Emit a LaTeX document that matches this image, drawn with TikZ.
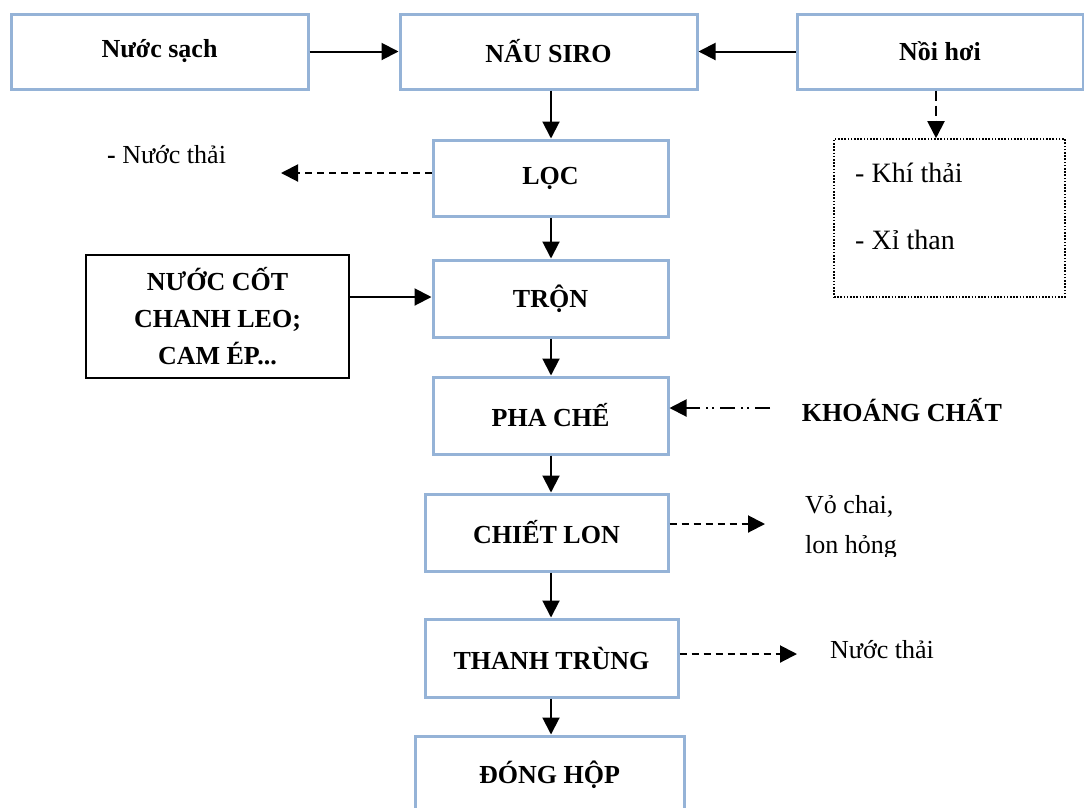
\documentclass[tikz,border=0pt]{standalone}
\usepackage{fontspec}
\setmainfont{Liberation Serif}
\usetikzlibrary{arrows.meta}
\definecolor{boxblue}{RGB}{149,179,215}
\tikzset{
  stage/.style={draw=boxblue, line width=3pt, fill=white, rectangle, inner sep=0pt,
    font=\fontsize{26}{37}\selectfont\bfseries, align=center},
  inputbox/.style={draw=black, line width=2.5pt, rectangle, inner sep=0pt,
    font=\fontsize{26}{37}\selectfont\bfseries, align=center},
  wastebox/.style={draw=black, line width=1.6pt, dash pattern=on 1.6pt off 1.6pt, rectangle, inner sep=0pt},
  plain/.style={inner sep=0pt, font=\fontsize{26}{40}\selectfont},
  bigplain/.style={inner sep=0pt, font=\fontsize{28}{38}\selectfont},
  flow/.style={line width=2pt, -{Triangle[length=17pt, width=17pt]}},
  waste/.style={flow, dash pattern=on 7pt off 5pt},
  steam/.style={flow, dash pattern=on 10pt off 5pt},
  additive/.style={flow, dash pattern=on 15pt off 6pt on 2pt off 4pt on 2pt off 6pt},
}
\begin{document}
\begin{tikzpicture}[x=1pt, y=-1pt]
\useasboundingbox (0,0) rectangle (1084,807);

% main process line
\node[stage, minimum width=297pt, minimum height=75pt] (nuoc) at (159.5,51.5) {Nước sạch};
\node[stage, minimum width=297pt, minimum height=75pt] (nau) at (548.5,51.5) {NẤU SIRO};
\node[stage, minimum width=286pt, minimum height=75pt] (noi) at (940,51.5) {Nồi hơi};
\node[stage, minimum width=235pt, minimum height=76pt] (loc) at (550.5,178) {LỌC};
\node[stage, minimum width=235pt, minimum height=77pt] (tron) at (550.5,298.5) {TRỘN};
\node[stage, minimum width=235pt, minimum height=77pt] (pha) at (550.5,415.5) {PHA CHẾ};
\node[stage, minimum width=243pt, minimum height=77pt] (chiet) at (546.5,532.5) {CHIẾT LON};
\node[stage, minimum width=253pt, minimum height=78pt] (thanh) at (551.5,658) {THANH TRÙNG};
\node[stage, minimum width=269pt, minimum height=77pt] (dong) at (549.5,774.5) {ĐÓNG HỘP};

% inputs
\node[inputbox, minimum width=263pt, minimum height=123pt] (cot) at (217.5,316.5)
  {NƯỚC CỐT\\CHANH LEO;\\CAM ÉP...};
\node[plain, font=\fontsize{26}{38}\selectfont\bfseries] (khoang) at (902,410) {KHOÁNG CHẤT};

% outputs
\node[wastebox, minimum width=231pt, minimum height=158pt] (khi) at (949.5,218) {};
\node[bigplain, anchor=west] (khitxt) at (855,173) {- Khí thải};
\node[bigplain, anchor=west] (xitxt) at (855,240) {- Xỉ than};
\node[plain, anchor=west] (nuocthai1) at (107,155) {\textbf{-} Nước thải};
\node[plain, anchor=west] (nuocthai2) at (830,650) {Nước thải};
\begin{scope}
  \clip (780,480) rectangle (960,556);
  \node[plain, anchor=north west, align=left] (vo) at (805,495) {Vỏ chai,\\lon hỏng};
\end{scope}

% free ends of the side arrows
\coordinate (axis) at (551,0);
\coordinate (locout) at (281,173);
\coordinate (steamx) at (936,0);
\coordinate (minin) at (770,408);
\coordinate (chietout) at (765,524);
\coordinate (thanhout) at (797,654);

% main flow
\draw[flow] (nuoc.east) -- (nau.west);
\draw[flow] (noi.west) -- (nau.east);
\draw[flow] (nau.south -| axis) -- (loc.north -| axis);
\draw[flow] (loc.south -| axis) -- (tron.north -| axis);
\draw[flow] (tron.south -| axis) -- (pha.north -| axis);
\draw[flow] (pha.south -| axis) -- (chiet.north -| axis);
\draw[flow] (chiet.south -| axis) -- (thanh.north -| axis);
\draw[flow] (thanh.south -| axis) -- (dong.north -| axis);
\draw[flow] (cot.east |- 0,297) -- (tron.west |- 0,297);

% side streams
\draw[steam] (noi.south -| steamx) -- (khi.north -| steamx);
\draw[waste] (loc.west |- locout) -- (locout);
\draw[additive] (minin) -- (pha.east |- minin);
\draw[waste] (chiet.east |- chietout) -- (chietout);
\draw[waste] (thanh.east |- thanhout) -- (thanhout);
\end{tikzpicture}
\end{document}
